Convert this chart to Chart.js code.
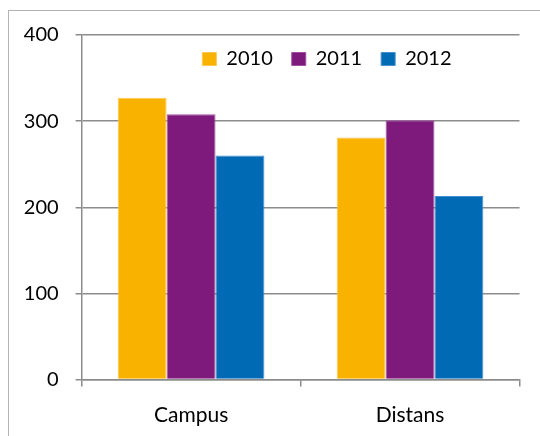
<!DOCTYPE html>
<html>
<head>
<meta charset="utf-8">
<script src="https://cdn.jsdelivr.net/npm/chart.js@4.4.1/dist/chart.umd.min.js"></script>
<style>
  body { margin: 0; background: #fff; }
  #wrap { position: relative; width: 540px; height: 436px; overflow: hidden; }
  #frame {
    position: absolute; left: 8px; top: 10px; width: 600px; height: 500px;
    border-left: 1.5px solid #b4b4b4; border-top: 1.5px solid #b4b4b4;
  }
  #myChart { position: absolute; left: 0; top: 0; }
</style>
</head>
<body>
<div id="wrap">
  <div id="frame"></div>
  <canvas id="myChart" width="540" height="436"></canvas>
</div>
<script>
// values
const categories = ["Campus", "Distans"];
const years = ["2010", "2011", "2012"];
const values2010 = [327, 281];
const values2011 = [308, 301];
const values2012 = [260, 213];
const yTicks = [0, 100, 200, 300, 400];

const fills = ["rgb(249, 178, 0)", "rgb(127, 26, 125)", "rgb(0, 106, 180)"];
const edges = ["rgb(252, 200, 80)", "rgb(160, 80, 160)", "rgb(70, 145, 205)"];
const gridColor = "#8c8c8c";

Chart.defaults.font.family = "Lato";
Chart.defaults.color = "#000";

// legend sits inside the plot, laid out in one row like the reference
const legendInside = {
  id: "legendInside",
  beforeLayout(chart) {
    if (chart.legend) chart.legend.isHorizontal = function () { return true; };
  },
  afterLayout(chart) {
    const lg = chart.legend;
    if (!lg) return;
    lg.left += 108; lg.right += 108;
    lg.top -= 5; lg.bottom -= 5;
  },
};

const seriesData = [values2010, values2011, values2012];
const datasets = years.map(function (y, i) {
  return {
    label: y,
    data: seriesData[i],
    backgroundColor: fills[i],
    borderColor: edges[i],
    borderWidth: 1,
    categoryPercentage: 0.67,
    barPercentage: 1.0,
  };
});

const ctx = document.getElementById("myChart").getContext("2d");
const myChart = new Chart(ctx, {
  type: "bar",
  data: { labels: categories, datasets: datasets },
  plugins: [legendInside],
  options: {
    responsive: false,
    animation: false,
    devicePixelRatio: 1,
    layout: { padding: { left: 0, top: 35, right: 20.5, bottom: 0 } },
    plugins: {
      tooltip: { enabled: false },
      legend: {
        position: "chartArea",
        align: "center",
        labels: {
          boxWidth: 14,
          boxHeight: 13,
          padding: 19,
          font: { size: 20 },
          color: "#000",
        },
      },
    },
    scales: {
      x: {
        border: { color: gridColor, width: 1.5 },
        grid: {
          offset: true,
          drawOnChartArea: false,
          color: gridColor,
          lineWidth: 1.5,
          tickLength: 7,
        },
        ticks: { font: { size: 21 }, padding: 16 },
        afterFit(scale) { scale.height = 56.5; },
      },
      y: {
        min: 0,
        max: 400,
        afterBuildTicks(scale) {
          scale.ticks = yTicks.map(function (v) { return { value: v }; });
        },
        border: { color: gridColor, width: 1.5 },
        grid: { color: gridColor, lineWidth: 1.5, tickLength: 6 },
        ticks: { font: { size: 20 }, padding: 17 },
        afterFit(scale) { scale.width = 81.6; },
      },
    },
  },
});
</script>
</body>
</html>
